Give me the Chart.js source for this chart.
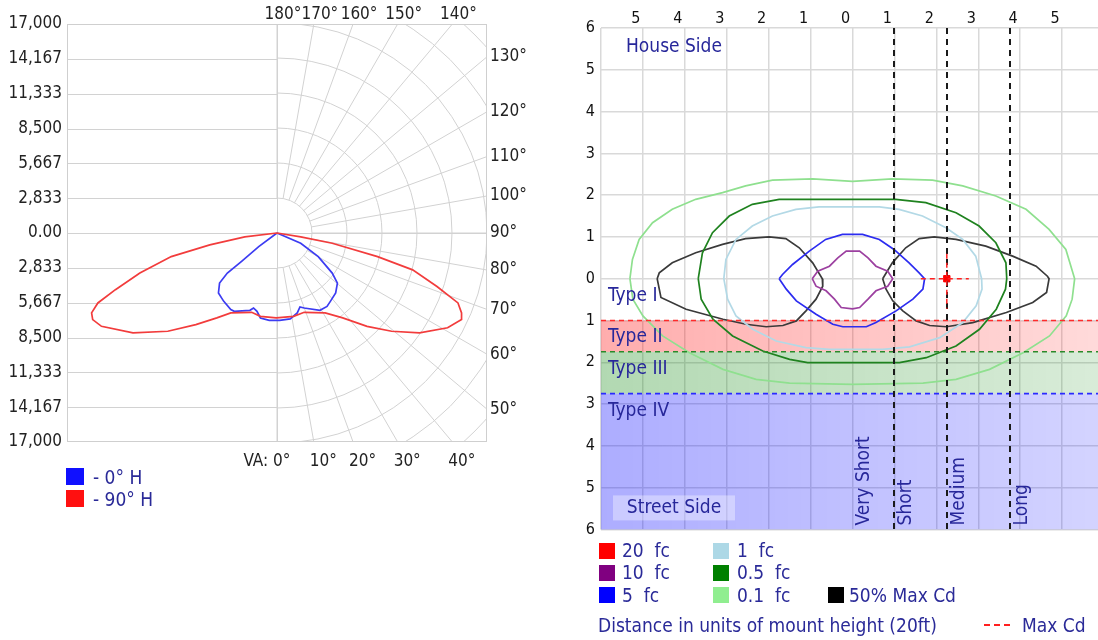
<!DOCTYPE html>
<html>
<head>
<meta charset="utf-8">
<script src="https://cdn.jsdelivr.net/npm/chart.js@4.4.1/dist/chart.umd.min.js"></script>
<style>
  html, body { margin: 0; padding: 0; background: #fff; overflow: hidden; width: 1098px; height: 640px; }
  body { position: relative; font-family: "DejaVu Sans Condensed", "DejaVu Sans", sans-serif; color: #2a2a98; }
  #polarChart { position: absolute; left: 0; top: 0; }
  #isoChart { position: absolute; left: 540px; top: 0; }
  .sw { position: absolute; width: 16px; height: 16px; }
  .lbl { position: absolute; font-size: 19px; line-height: 22px; white-space: pre; }
</style>
</head>
<body>
<canvas id="polarChart" width="540" height="478"></canvas>
<canvas id="isoChart" width="564" height="545"></canvas>

<!-- left legend -->
<div class="sw" style="left:66px;top:468px;width:18px;height:17px;background:#1010ff"></div>
<div class="lbl" style="left:93px;top:466px">- 0° H</div>
<div class="sw" style="left:66px;top:490px;width:18px;height:17px;background:#ff1010"></div>
<div class="lbl" style="left:93px;top:488px">- 90° H</div>

<!-- right legend -->
<div class="sw" style="left:599px;top:543px;background:#ff0000"></div>
<div class="lbl" style="left:622px;top:539px">20  fc</div>
<div class="sw" style="left:713px;top:543px;background:#add8e6"></div>
<div class="lbl" style="left:737px;top:539px">1  fc</div>
<div class="sw" style="left:599px;top:565px;background:#800080"></div>
<div class="lbl" style="left:622px;top:561px">10  fc</div>
<div class="sw" style="left:713px;top:565px;background:#008000"></div>
<div class="lbl" style="left:737px;top:561px">0.5  fc</div>
<div class="sw" style="left:599px;top:587px;background:#0000ff"></div>
<div class="lbl" style="left:622px;top:584px">5  fc</div>
<div class="sw" style="left:713px;top:587px;background:#90ee90"></div>
<div class="lbl" style="left:737px;top:584px">0.1  fc</div>
<div class="sw" style="left:828px;top:587px;background:#000000"></div>
<div class="lbl" style="left:849px;top:584px">50% Max Cd</div>
<div class="lbl" style="left:598px;top:614px">Distance in units of mount height (20ft)</div>
<div style="position:absolute;left:984px;top:624px;width:28px;height:2px;background:repeating-linear-gradient(to right,#ff2020 0 6px,transparent 6px 10px)"></div>
<div class="lbl" style="left:1022px;top:614px">Max Cd</div>

<script>
// ---------- left: polar candela plot ----------
const cdTicks = [17000, 14167, 11333, 8500, 5667, 2833, 0, -2833, -5667, -8500, -11333, -14167, -17000];
const cdTickLabels = ['17,000', '14,167', '11,333', '8,500', '5,667', '2,833', '0.00', '2,833', '5,667', '8,500', '11,333', '14,167', '17,000'];
const ringStep = 2833.33;
const vaAngles = [0, 10, 20, 30, 40, 50, 60, 70, 80, 90, 100, 110, 120, 130, 140, 150, 160, 170, 180];

// candela traces, [horizontal, vertical] in cd (down = negative)
const cd0H = [[0, 0], [-1480, -1110], [-2890, -2320], [-4020, -3260], [-4650, -4070], [-4740, -4880],
  [-4310, -5560], [-3740, -6230], [-3460, -6370], [-2190, -6290], [-1900, -6100], [-1620, -6370],
  [-1340, -6910], [-630, -7100], [220, -7100], [1070, -6990], [1640, -6500], [1860, -6010],
  [2200, -6100], [3480, -6290], [4050, -5970], [4320, -5560], [4750, -4880], [4890, -4070],
  [4470, -3260], [3340, -1920], [1920, -830], [0, 0]];
const cd90H = [[0, 0], [-2610, -320], [-5440, -970], [-8560, -1920], [-11100, -3260], [-13080, -4610],
  [-14500, -5690], [-15010, -6500], [-14920, -7040], [-14210, -7590], [-11660, -8120], [-8840, -7990],
  [-6570, -7450], [-4870, -6900], [-3740, -6500], [-2050, -6450], [-1340, -6780], [-60, -6900],
  [1350, -6780], [2200, -6450], [3900, -6500], [5320, -6900], [7290, -7590], [9280, -7990],
  [11540, -8120], [13810, -7710], [14940, -7040], [14940, -6500], [14650, -5690], [12950, -4350],
  [10980, -3000], [8140, -1920], [4470, -830], [1920, -320], [0, 0]];

// ---------- right: iso-footcandle plot (units of mount height) ----------
const mhTicks = [-6, -5, -4, -3, -2, -1, 0, 1, 2, 3, 4, 5, 6];
const typeTops = [0, -1, -1.75, -2.75];
const typeNames = ['Type I', 'Type II', 'Type III', 'Type IV'];
const lengthBounds = [1, 2.25, 3.75];
const lengthNames = ['Very Short', 'Short', 'Medium', 'Long'];
const maxCdPos = [2.25, 0];

const iso10fc = [[-0.96, 0], [-0.83, 0.18], [-0.55, 0.30], [-0.35, 0.50], [-0.15, 0.66], [0.17, 0.66],
  [0.37, 0.50], [0.56, 0.30], [0.84, 0.18], [0.96, 0], [0.84, -0.18], [0.56, -0.29], [0.37, -0.49],
  [0.17, -0.69], [0, -0.72], [-0.27, -0.69], [-0.43, -0.49], [-0.63, -0.29], [-0.87, -0.18], [-0.96, 0]];
const iso5fc = [[-1.75, 0], [-1.67, 0.10], [-1.43, 0.34], [-1.03, 0.66], [-0.64, 0.94], [-0.24, 1.06],
  [0.24, 1.06], [0.64, 0.94], [0.99, 0.70], [1.35, 0.38], [1.59, 0.14], [1.72, 0], [1.68, -0.25],
  [1.44, -0.49], [1.04, -0.77], [0.56, -1.05], [0.33, -1.15], [-0.23, -1.15], [-0.47, -1.09],
  [-0.87, -0.85], [-1.34, -0.53], [-1.58, -0.25], [-1.75, 0]];
const iso1fc = [[-3.07, 0], [-3.02, 0.46], [-2.78, 0.94], [-2.39, 1.26], [-1.91, 1.50], [-1.35, 1.66],
  [-0.80, 1.72], [0.64, 1.72], [1.11, 1.66], [1.67, 1.50], [2.23, 1.22], [2.63, 0.94], [2.94, 0.54],
  [3.08, 0], [3.09, -0.25], [2.95, -0.65], [2.63, -1.05], [2.08, -1.41], [1.36, -1.63], [0.72, -1.69],
  [-0.55, -1.69], [-1.11, -1.65], [-1.82, -1.49], [-2.38, -1.21], [-2.78, -0.89], [-2.98, -0.49], [-3.07, 0]];
const iso05fc = [[-3.68, 0], [-3.58, 0.62], [-3.34, 1.10], [-2.94, 1.50], [-2.39, 1.78], [-1.75, 1.90],
  [-1.03, 1.90], [1.03, 1.90], [1.75, 1.82], [2.47, 1.58], [3.02, 1.26], [3.42, 0.86], [3.66, 0.38],
  [3.68, 0], [3.65, -0.25], [3.43, -0.73], [3.03, -1.21], [2.47, -1.61], [1.76, -1.89], [1.12, -2.01],
  [-1.07, -2.01], [-1.50, -1.93], [-2.14, -1.73], [-2.86, -1.37], [-3.33, -0.97], [-3.61, -0.49], [-3.68, 0]];
const iso01fc = [[-5.31, 0], [-5.25, 0.46], [-5.09, 0.94], [-4.77, 1.34], [-4.30, 1.66], [-3.74, 1.90],
  [-3.10, 2.06], [-2.55, 2.22], [-1.91, 2.36], [-0.95, 2.39], [0, 2.33], [0.95, 2.39], [1.91, 2.36],
  [2.63, 2.22], [3.42, 1.98], [4.14, 1.66], [4.69, 1.18], [5.09, 0.70], [5.30, 0], [5.24, -0.49],
  [5.10, -0.89], [4.70, -1.37], [4.07, -1.77], [3.27, -2.17], [2.47, -2.41], [1.68, -2.50], [0, -2.53],
  [-1.50, -2.50], [-2.30, -2.41], [-3.09, -2.17], [-3.89, -1.77], [-4.53, -1.37], [-5.00, -0.89],
  [-5.24, -0.49], [-5.31, 0]];
const halfCdLeft = [[-4.66, 0], [-4.61, 0.14], [-4.30, 0.38], [-3.74, 0.62], [-3.10, 0.82], [-2.55, 0.96],
  [-1.99, 1.00], [-1.59, 0.96], [-1.27, 0.74], [-0.95, 0.38], [-0.72, 0], [-0.71, -0.18], [-0.87, -0.49],
  [-1.11, -0.77], [-1.34, -1.01], [-1.66, -1.12], [-2.06, -1.15], [-2.54, -1.09], [-3.09, -0.97],
  [-3.97, -0.73], [-4.57, -0.45], [-4.66, 0]];
const halfCdRight = [[0.72, 0], [0.95, 0.38], [1.27, 0.74], [1.59, 0.96], [1.95, 1.00], [2.47, 0.94],
  [3.18, 0.78], [3.82, 0.54], [4.38, 0.30], [4.65, 0.06], [4.69, 0], [4.63, -0.33], [4.30, -0.57],
  [3.67, -0.81], [2.87, -1.05], [2.24, -1.15], [1.84, -1.12], [1.52, -1.01], [1.20, -0.77],
  [0.96, -0.53], [0.80, -0.25], [0.72, 0]];

const FONT = '"DejaVu Sans Condensed", "DejaVu Sans", sans-serif';
Chart.defaults.font.family = FONT;
Chart.defaults.color = '#222';

const pts = arr => arr.map(p => ({ x: p[0], y: p[1] }));
function lineSet(label, arr, color, width) {
  return {
    label, data: pts(arr), borderColor: color, backgroundColor: color,
    showLine: true, pointRadius: 0, borderWidth: width || 1.7, tension: 0, fill: false
  };
}

// polar grid + angle labels for the candela plot
const polarGrid = {
  id: 'polarGrid',
  beforeDatasetsDraw(chart) {
    const { ctx, chartArea: a, scales: { x, y } } = chart;
    const cx = x.getPixelForValue(0), cy = y.getPixelForValue(0);
    const ring = x.getPixelForValue(ringStep) - cx;
    ctx.save();
    ctx.beginPath();
    ctx.rect(a.left, a.top, a.width, a.height);
    ctx.clip();
    ctx.strokeStyle = '#d2d2d2';
    ctx.lineWidth = 1;
    ctx.beginPath();
    cdTicks.forEach(v => {
      const py = Math.round(y.getPixelForValue(v)) + 0.5;
      ctx.moveTo(a.left, py);
      ctx.lineTo(v === 0 ? a.right : cx + 0.5, py);
    });
    ctx.moveTo(Math.round(cx) + 0.5, a.top);
    ctx.lineTo(Math.round(cx) + 0.5, a.bottom);
    ctx.stroke();
    for (let k = 1; k <= 8; k++) {
      ctx.beginPath();
      ctx.arc(cx, cy, ring * k, -Math.PI / 2, Math.PI / 2);
      ctx.stroke();
    }
    ctx.beginPath();
    vaAngles.forEach(d => {
      const t = d * Math.PI / 180;
      ctx.moveTo(cx + Math.sin(t) * ring, cy + Math.cos(t) * ring);
      ctx.lineTo(cx + Math.sin(t) * 700, cy + Math.cos(t) * 700);
    });
    ctx.stroke();
    ctx.restore();
    ctx.save();
    ctx.strokeStyle = '#cfcfcf';
    ctx.strokeRect(a.left + 0.5, a.top + 0.5, a.width - 1, a.height - 1);
    ctx.restore();
  },
  afterDraw(chart) {
    const { ctx, chartArea: a, scales: { x, y } } = chart;
    const cx = x.getPixelForValue(0), cy = y.getPixelForValue(0);
    ctx.save();
    ctx.font = '17px ' + FONT;
    ctx.fillStyle = '#222';
    ctx.textBaseline = 'middle';
    vaAngles.forEach(d => {
      const t = d * Math.PI / 180;
      const txt = d + '°';
      if (d <= 40) {
        const hx = cx + (a.bottom - cy) * Math.tan(t);
        ctx.textAlign = 'left';
        ctx.fillText(txt, hx - 4, a.bottom + 20);
        if (d === 0) {
          ctx.textAlign = 'right';
          ctx.fillText('VA: ', hx - 4, a.bottom + 20);
        }
      } else if (d <= 130) {
        const hy = cy + (a.right - cx) * Math.cos(t) / Math.sin(t);
        ctx.textAlign = 'left';
        ctx.fillText(txt, a.right + 3, hy);
      } else {
        const r = (a.top - cy) / Math.cos(t);
        const hx = cx + r * Math.sin(t);
        ctx.textAlign = 'center';
        ctx.fillText(txt, hx + 6, a.top - 9);
      }
    });
    ctx.restore();
  }
};

new Chart(document.getElementById('polarChart'), {
  type: 'scatter',
  data: {
    datasets: [
      lineSet('- 90° H', cd90H, '#f23c3c'),
      lineSet('- 0° H', cd0H, '#3c3cf2')
    ]
  },
  options: {
    responsive: false,
    animation: false,
    layout: { autoPadding: false, padding: { top: 24, right: 53, bottom: 36, left: 0 } },
    plugins: { legend: { display: false }, tooltip: { enabled: false } },
    scales: {
      x: { type: 'linear', min: -17000, max: 17000, display: false },
      y: {
        type: 'linear', min: -17000, max: 17000,
        afterFit: s => { s.width = 67; },
        afterBuildTicks: s => { s.ticks = cdTicks.slice().sort((p, q) => p - q).map(v => ({ value: v })); },
        grid: { display: false, drawTicks: false },
        border: { display: false },
        ticks: {
          padding: 5, font: { size: 17 }, color: '#222',
          callback: v => cdTickLabels[cdTicks.indexOf(v)]
        }
      }
    }
  },
  plugins: [polarGrid]
});

// bands, classification lines and labels for the iso plot
const bandStyles = [null,
  { rgb: '255,0,0', a0: 0.32, a1: 0.14, line: '#ff2a2a' },
  { rgb: '0,128,0', a0: 0.30, a1: 0.15, line: '#2a8a2a' },
  { rgb: '0,0,255', a0: 0.32, a1: 0.17, line: '#2a2aff' }];

const isoDecor = {
  id: 'isoDecor',
  beforeDatasetsDraw(chart) {
    const { ctx, chartArea: a, scales: { y } } = chart;
    ctx.save();
    typeTops.forEach((top, i) => {
      const st = bandStyles[i];
      if (!st) return;
      const bottom = i + 1 < typeTops.length ? typeTops[i + 1] : y.min;
      const y0 = y.getPixelForValue(top), y1 = y.getPixelForValue(bottom);
      const g = ctx.createLinearGradient(a.left, 0, a.right, 0);
      g.addColorStop(0, 'rgba(' + st.rgb + ',' + st.a0 + ')');
      g.addColorStop(1, 'rgba(' + st.rgb + ',' + st.a1 + ')');
      ctx.fillStyle = g;
      ctx.fillRect(a.left, y0, a.width, y1 - y0);
    });
    ctx.restore();
  },
  afterDatasetsDraw(chart) {
    const { ctx, chartArea: a, scales: { x, y } } = chart;
    ctx.save();
    // type boundaries
    ctx.lineWidth = 1.6;
    ctx.setLineDash([5, 4]);
    typeTops.forEach((top, i) => {
      const st = bandStyles[i];
      if (!st) return;
      const py = y.getPixelForValue(top);
      ctx.strokeStyle = st.line;
      ctx.beginPath();
      ctx.moveTo(a.left, py);
      ctx.lineTo(a.right, py);
      ctx.stroke();
    });
    // length boundaries
    ctx.strokeStyle = '#1a1a1a';
    ctx.lineWidth = 2;
    ctx.setLineDash([6, 5]);
    lengthBounds.forEach(v => {
      const px = Math.round(x.getPixelForValue(v));
      ctx.beginPath();
      ctx.moveTo(px, a.top);
      ctx.lineTo(px, a.bottom);
      ctx.stroke();
    });
    // max cd crosshair
    const mx = x.getPixelForValue(maxCdPos[0]), my = y.getPixelForValue(maxCdPos[1]);
    ctx.strokeStyle = '#ff2020';
    ctx.lineWidth = 1.5;
    ctx.setLineDash([5, 4]);
    ctx.beginPath();
    ctx.moveTo(mx - 26, my); ctx.lineTo(mx + 22, my);
    ctx.moveTo(mx, my - 25); ctx.lineTo(mx, my + 30);
    ctx.stroke();
    ctx.setLineDash([]);

    // labels
    ctx.font = '19px ' + FONT;
    ctx.fillStyle = '#27279a';
    ctx.textBaseline = 'middle';
    ctx.textAlign = 'left';
    ctx.fillText('House Side', a.left + 25, a.top + 19);
    typeTops.forEach((top, i) => {
      ctx.fillText(typeNames[i], a.left + 7, y.getPixelForValue(top) + 17);
    });
    ctx.fillStyle = 'rgba(255,255,255,0.35)';
    ctx.fillRect(a.left + 12, a.bottom - 34, 122, 25);
    ctx.fillStyle = '#27279a';
    ctx.textAlign = 'center';
    ctx.fillText('Street Side', a.left + 73, a.bottom - 21);
    const lx = [0].concat(lengthBounds);
    lengthNames.forEach((name, i) => {
      ctx.save();
      ctx.translate(x.getPixelForValue(lx[i]) + 12, a.bottom - 4);
      ctx.rotate(-Math.PI / 2);
      ctx.textAlign = 'left';
      ctx.fillText(name, 0, 0);
      ctx.restore();
    });
    ctx.restore();
  }
};

new Chart(document.getElementById('isoChart'), {
  type: 'scatter',
  data: {
    datasets: [
      lineSet('0.1 fc', iso01fc, '#8fe08f'),
      lineSet('0.5 fc', iso05fc, '#1f821f'),
      lineSet('1 fc', iso1fc, '#b3d9e6'),
      lineSet('5 fc', iso5fc, '#2c2cf0'),
      lineSet('10 fc', iso10fc, '#9c40a0'),
      lineSet('50% Max Cd', halfCdLeft, '#3a3a3a'),
      lineSet('50% Max Cd', halfCdRight, '#3a3a3a'),
      {
        label: 'Max Cd', data: pts([maxCdPos]), pointStyle: 'rect', pointRadius: 4.5,
        backgroundColor: '#ff0000', borderColor: '#ff0000', showLine: false
      }
    ]
  },
  options: {
    responsive: false,
    animation: false,
    layout: { autoPadding: false, padding: { top: 0, right: 0, bottom: 13, left: 0 } },
    plugins: { legend: { display: false }, tooltip: { enabled: false } },
    scales: {
      x: {
        type: 'linear', position: 'top', min: -6, max: 6,
        afterFit: s => { s.height = 28; },
        afterBuildTicks: s => { s.ticks = mhTicks.map(v => ({ value: v })); },
        grid: { color: '#d9d9d9', lineWidth: 1.5, drawTicks: false },
        border: { display: false },
        ticks: {
          padding: 0, labelOffset: -7, autoSkip: false, maxRotation: 0,
          font: { size: 16 }, color: '#111',
          callback: v => Math.abs(v) === 6 ? '' : String(Math.abs(v))
        }
      },
      y: {
        type: 'linear', min: -6, max: 6,
        afterFit: s => { s.width = 61; },
        afterBuildTicks: s => { s.ticks = mhTicks.map(v => ({ value: v })); },
        grid: { color: '#d9d9d9', lineWidth: 1.5, drawTicks: false },
        border: { display: false },
        ticks: {
          padding: 6, font: { size: 16 }, color: '#111',
          callback: v => String(Math.abs(v))
        }
      }
    }
  },
  plugins: [isoDecor]
});
</script>
</body>
</html>
